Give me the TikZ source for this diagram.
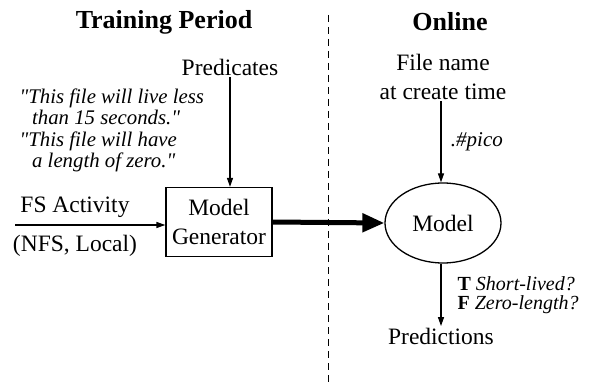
\documentclass[tikz,border=0pt]{standalone}
\usepackage{fontspec}
\setmainfont{Liberation Serif}
\usetikzlibrary{arrows.meta,positioning,shapes.geometric}

\begin{document}
\begin{tikzpicture}[x=1pt,y=1pt,
    font=\fontsize{23.5}{29}\selectfont,
    >={Triangle[length=9pt,width=6pt]},
    every path/.style={line width=1.3pt},
    head/.style={font=\fontsize{26}{30}\selectfont\bfseries},
    quote/.style={font=\fontsize{20.8}{21.5}\selectfont\itshape,align=left,
                  inner sep=0pt},
    gen/.style={draw,minimum width=106pt,minimum height=69pt,align=center,
                inner sep=2pt},
    mdl/.style={draw,ellipse,minimum width=116pt,minimum height=80pt,
                inner sep=0pt},
    txt/.style={align=center,inner sep=1pt}]
  \useasboundingbox (0,0) rectangle (589,-382);

  % column headings and the divider
  \node[head] (train) at (164,-22) {Training Period};
  \node[head] (online) at (450,-22) {Online};
  \coordinate (divtop) at (328,-15);
  \coordinate (divbot) at (328,-382);
  \draw[dashed,line width=1pt,dash pattern=on 7pt off 5pt] (divtop) -- (divbot);

  % training side
  \node[txt] (pred) at (230,-67) {Predicates};
  \node[quote,anchor=north west] (quotes) at (19,-88)
        {\textquotedbl This file will live less\\
         \hspace*{0.6em}than 15 seconds.\textquotedbl\\
         \textquotedbl This file will have\\
         \hspace*{0.6em}a length of zero.\textquotedbl};
  \node[gen] (mgen) at (219,-222) {Model\\Generator};
  \node[txt] (fsact) at (75,-207) {FS Activity};
  \node[txt] (fskind) at (75,-246) {(NFS, Local)};
  \coordinate (fsin) at (15,-225);

  \draw[->] (pred) -- (pred |- mgen.north);
  \draw[->] (fsin) -- (fsin -| mgen.west);

  % online side
  \node[txt] (fname) at (443,-77) {File name\\at create time};
  \node[mdl] (model) at (443,-223) {Model};
  \node[txt] (preds) at (441,-336) {Predictions};
  \node[anchor=west,align=left,inner sep=0pt,
        font=\fontsize{20}{19.5}\selectfont] (answers) at (457,-295)
        {\textbf{T} \textit{Short-lived?}\\\textbf{F} \textit{Zero-length?}};

  \draw[->] (fname.south -| 441,0) -- node[right=6pt,
        font=\fontsize{21}{24}\selectfont\itshape] (pico) {.\#pico}
        (441,0 |- model.north);
  \draw[->] (441,0 |- model.south) -- (preds.north -| 441,0);

  % training output feeds the online model
  \draw[-{Triangle[length=22pt,width=18pt]},line width=5pt]
        (mgen.east) -- (model.west);
\end{tikzpicture}
\end{document}
